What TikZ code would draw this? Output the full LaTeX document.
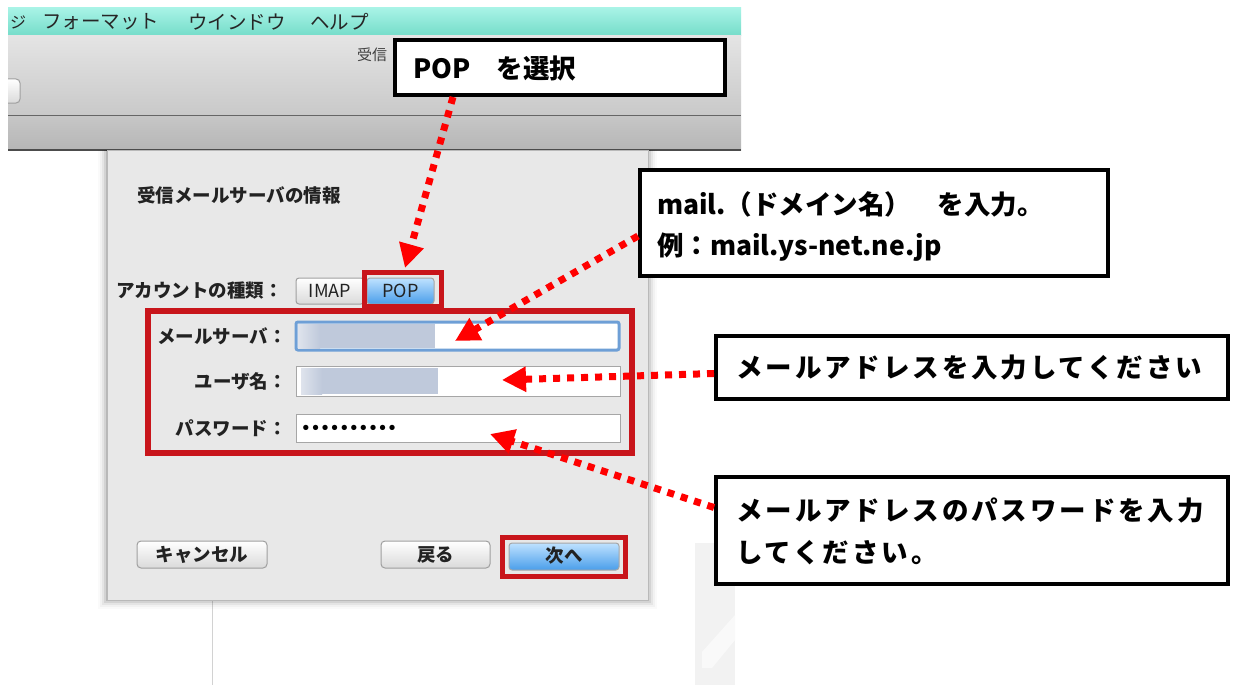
\documentclass[tikz,border=0pt]{standalone}
\usepackage{fontspec}
\setmainfont{Noto Sans CJK JP}
\newfontfamily\jp{Noto Sans CJK JP}
\newfontfamily\jpcallsp[LetterSpace=11]{Noto Sans CJK JP}
\newfontfamily\dejavu{DejaVu Sans}
\usetikzlibrary{arrows.meta,calc}
\definecolor{menutop}{HTML}{A8F3E6}
\definecolor{menubot}{HTML}{74DCC9}
\definecolor{tbtop}{HTML}{E4E4E4}
\definecolor{tbbot}{HTML}{C9C9C9}
\definecolor{bandtop}{HTML}{C6C6C6}
\definecolor{bandbot}{HTML}{B6B6B6}
\definecolor{dlg}{HTML}{E8E8E8}
\definecolor{uitext}{HTML}{222222}
\definecolor{boxred}{HTML}{C8151B}
\definecolor{arrred}{HTML}{FF0000}
\definecolor{focusblue}{HTML}{6E9FD6}
\definecolor{blura}{HTML}{C9D1E0}
\definecolor{blurb}{HTML}{BFC9DB}
\definecolor{btntop}{HTML}{FFFFFF}
\definecolor{btnbot}{HTML}{DADADA}
\definecolor{bluetop}{HTML}{BFE2FF}
\definecolor{bluebot}{HTML}{4A9EEA}
\tikzset{
  callout/.style={draw=black,line width=4pt,fill=white,inner sep=0pt},
  calltext/.style={anchor=west,font=\jp\bfseries\fontsize{26.5}{32}\selectfont,inner sep=0pt,text=black},
  calltextsp/.style={calltext,font=\jpcallsp\bfseries\fontsize{26.5}{32}\selectfont},
  redbox/.style={draw=boxred,line width=5pt},
  pointer/.style={draw=arrred,line width=7pt,dash pattern=on 7pt off 7pt,-{Triangle[length=24pt,width=24pt]}},
  uilabel/.style={font=\jp\bfseries\fontsize{18.5}{18.5}\selectfont,text=uitext,inner sep=0pt},
  menutext/.style={anchor=west,font=\jp\fontsize{19.5}{19.5}\selectfont,text=black!85,inner sep=0pt},
  field/.style={draw=gray!70,fill=white,line width=1pt},
  btn/.style={draw=gray!75,line width=1pt,rounded corners=4pt,top color=btntop,bottom color=btnbot},
  bluebtn/.style={draw=gray!70,line width=1pt,rounded corners=3pt,top color=bluetop,bottom color=bluebot}
}
\begin{document}
\begin{tikzpicture}[x=1pt,y=-1pt]
\useasboundingbox (0,0) rectangle (1237,685);
\fill[white] (0,0) rectangle (1237,685);

% menu bar
\shade[top color=menutop,bottom color=menubot] (8,8) rectangle (741,36);
\node[menutext,font=\jp\fontsize{16}{16}\selectfont] (mj) at (10,22) {ジ};
\node[menutext] (m1) at (42,22) {フォーマット};
\node[menutext] (m2) at (188,22) {ウインドウ};
\node[menutext] (m3) at (310,22) {ヘルプ};

% toolbar
\shade[top color=tbtop,bottom color=tbbot] (8,36) rectangle (741,115);
\draw[gray!80!black,line width=1pt] (8,115) -- (741,115);
\shade[top color=bandtop,bottom color=bandbot] (8,116) rectangle (741,150);
\draw[gray!60!black,line width=1.2pt] (8,150) -- (741,150);
\begin{scope}
\clip (8,36) rectangle (741,115);
\draw[btn] (-20,79) rectangle (20,103);
\end{scope}
\node[anchor=west,font=\jp\fontsize{15}{15}\selectfont,text=black!75,inner sep=0pt] (wt) at (357,55) {受信};

% faint background shapes
\draw[gray!35,line width=1pt] (212,600) -- (212,685);
\fill[gray!10] (695,543) rectangle (735,685);
\fill[gray!5] (735,615) -- (735,640) -- (712,668) -- (702,668) -- (702,652) -- cycle;

% dialog shadow and body
\foreach \i/\o in {1/0.12,3/0.08,5/0.05,7/0.03,9/0.02}
  \fill[black,opacity=\o] (107-\i,150) rectangle (648+\i,600+\i);
\fill[dlg] (107,150) rectangle (648,600);
\draw[gray!55,line width=0.8pt] (107,150) rectangle (648,600);

\node[uilabel,anchor=west] (title) at (137,195) {受信メールサーバの情報};
\node[uilabel,anchor=west] (acct) at (116,291) {アカウントの種類：};
\draw[btn,rounded corners=3pt] (296,278) rectangle (364,304);
\node[font=\jp\fontsize{18}{18}\selectfont,text=uitext,inner sep=0pt] (imap) at (330,291) {IMAP};
\draw[bluebtn] (367,278) rectangle (434,304);
\node[font=\jp\fontsize{18}{18}\selectfont,text=uitext,inner sep=0pt] (pop) at (400.5,291) {POP};
\draw[redbox] (364.5,272.5) rectangle (441.5,306);

% fields
\draw[redbox,line width=6pt] (148,311) rectangle (632,453);
\node[uilabel,anchor=east] (lserver) at (287,336) {メールサーバ：};
\node[uilabel,anchor=east] (luser) at (287,381) {ユーザ名：};
\node[uilabel,anchor=east] (lpass) at (287,428) {パスワード：};
\draw[draw=focusblue,line width=3pt,fill=white,rounded corners=2pt] (296,322) rectangle (619,350);
\shade[left color=blura!60!white,right color=blurb] (298,324) rectangle (320,348);
\fill[blurb] (320,324) rectangle (435,348);
\draw[field] (296,366) rectangle (620,396);
\shade[left color=blura!60!white,right color=blurb] (301,368) rectangle (322,394);
\fill[blurb] (322,368) rectangle (438,394);
\draw[field] (296,414) rectangle (620,442);
\node[anchor=west,font=\dejavu\bfseries\fontsize{15}{15}\selectfont,inner sep=0pt] (dots) at (301,429) {••••••••••};

% buttons
\draw[btn] (137,541) rectangle (267,568);
\node[uilabel] (cancel) at (202,554.5) {キャンセル};
\draw[btn] (381,541) rectangle (490,568);
\node[uilabel] (back) at (435.5,554.5) {戻る};
\draw[bluebtn] (509,543) rectangle (619,570);
\node[uilabel] (next) at (564,556) {次へ};
\draw[redbox] (502.5,537.5) rectangle (625,576);

% callouts
\node[callout,minimum width=330pt,minimum height=55pt] (c1) at (560,67.5) {};
\node[calltext] (t1) at (413,68) {POP　を選択};
\node[callout,minimum width=468pt,minimum height=106pt] (c2) at (874,223) {};
\node[calltext] (t2a) at (657,204) {mail.（ドメイン名）　を入力。};
\node[calltext] (t2b) at (657,247) {例：mail.ys-net.ne.jp};
\node[callout,minimum width=512pt,minimum height=63pt] (c3) at (972,367.5) {};
\node[calltextsp] (t3) at (736,368) {メールアドレスを入力してください};
\node[callout,minimum width=512pt,minimum height=107pt] (c4) at (972,530.5) {};
\node[calltextsp] (t4a) at (736,510) {メールアドレスのパスワードを入力};
\node[calltextsp] (t4b) at (736,553) {してください。};

% pointers
\coordinate (p1) at (405,268);
\coordinate (p2) at (455,341);
\coordinate (p3) at (502,380);
\coordinate (p4) at (490,434);
\draw[pointer] ([xshift=60pt]c1.south west) -- (p1);
\draw[pointer] ([yshift=-13pt]c2.west) -- (p2);
\draw[pointer] ([yshift=-6pt]c3.west) -- (p3);
\draw[pointer] ([yshift=23pt]c4.west) -- (p4);
\end{tikzpicture}
\end{document}
